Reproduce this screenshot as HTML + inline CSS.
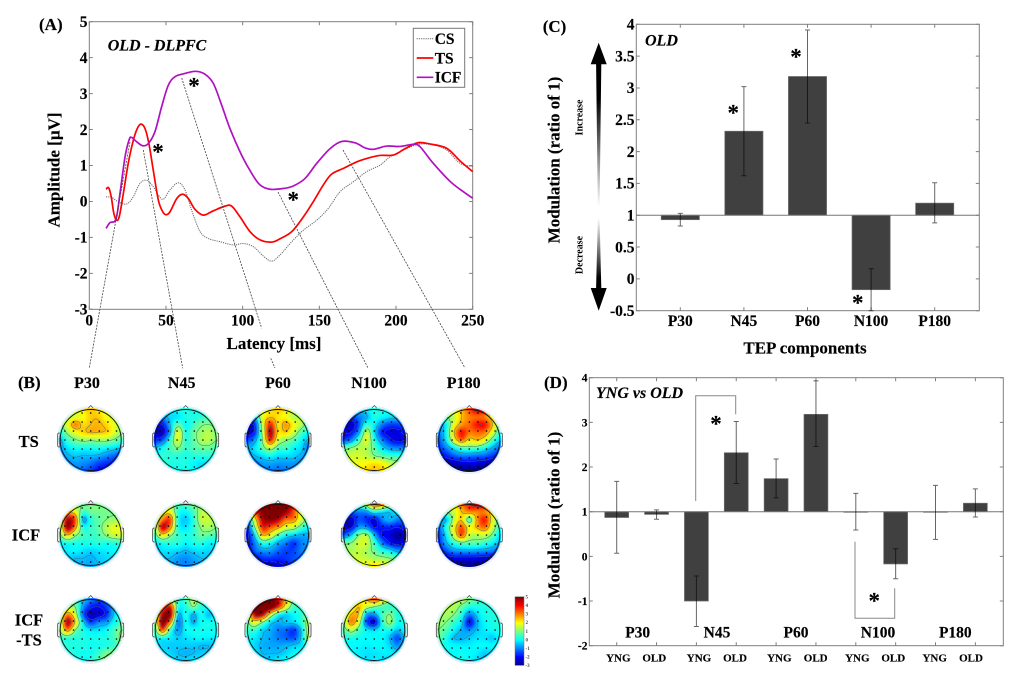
<!DOCTYPE html>
<html lang="en">
<head>
<meta charset="utf-8">
<title>TEP modulation figure</title>
<style>
html,body{margin:0;padding:0;background:#fff;}
svg{display:block;font-family:"Liberation Serif",serif;font-weight:bold;fill:#000;filter:blur(.35px);}
text{stroke:#000;stroke-width:.15px;}
.tick{font-size:15.5px;}
.dtick{font-size:11.5px;}
.italic{font-style:italic;}
.star{font-size:23px;text-anchor:middle;}
.leader{stroke:#444;stroke-width:.8;stroke-dasharray:2 1.2;fill:none;}
.bracket{stroke:#888;stroke-width:1;fill:none;}
</style>
</head>
<body>
<svg id="figure" xmlns="http://www.w3.org/2000/svg" width="1020" height="682" viewBox="0 0 1020 682">
  <defs>
    <linearGradient id="arrow-up-grad" gradientUnits="userSpaceOnUse" x1="0" y1="42" x2="0" y2="207">
      <stop offset="0" stop-color="#000"/><stop offset=".35" stop-color="#000"/><stop offset="1" stop-color="#fff"/>
    </linearGradient>
    <linearGradient id="arrow-down-grad" gradientUnits="userSpaceOnUse" x1="0" y1="218" x2="0" y2="311">
      <stop offset="0" stop-color="#fff"/><stop offset=".65" stop-color="#000"/><stop offset="1" stop-color="#000"/>
    </linearGradient>
    <filter id="soft" x="-10%" y="-10%" width="120%" height="120%"><feGaussianBlur stdDeviation="0.9"/></filter>
    <clipPath id="head-clip"><circle cx="0" cy="0" r="32"/></clipPath>
  </defs>

  <g id="panel-a"></g>
  <text x="39" y="30" font-size="17">(A)</text>
  <text x="107.7" y="50.5" font-size="16" class="italic">OLD - DLPFC</text>
  <text x="274" y="349" font-size="17" text-anchor="middle">Latency [ms]</text>
  <text transform="translate(59.5,170) rotate(-90)" font-size="17" text-anchor="middle">Amplitude [µV]</text>

  <g>
    <line class="leader" x1="130" y1="142" x2="89.3" y2="368"/>
    <line class="leader" x1="143.3" y1="150" x2="182.7" y2="368.3"/>
    <line class="leader" x1="181.7" y1="78" x2="261.7" y2="328.3"/>
    <line class="leader" x1="270.7" y1="358.3" x2="275" y2="368"/>
    <line class="leader" x1="278" y1="192" x2="368" y2="368"/>
    <line class="leader" x1="343" y1="150" x2="465" y2="368"/>
  </g>
  <g>
    <text class="star" x="158" y="159.5">*</text>
    <text class="star" x="194" y="93.5">*</text>
    <text class="star" x="293.3" y="207.5">*</text>
  </g>
  <g>
    <rect x="413.3" y="28.3" width="51.4" height="59" fill="#fff" stroke="#777"/>
    <line x1="416.7" x2="433.3" y1="38.7" y2="38.7" stroke="#666" stroke-width="1" stroke-dasharray="1.2 1"/>
    <text x="434.7" y="44" font-size="15.5">CS</text>
    <line x1="416.7" x2="433.3" y1="58" y2="58" stroke="#f00" stroke-width="1.7"/>
    <text x="434.7" y="63.3" font-size="15.5">TS</text>
    <line x1="416.7" x2="433.3" y1="77.3" y2="77.3" stroke="#b010c0" stroke-width="1.7"/>
    <text x="434.7" y="82.6" font-size="15.5">ICF</text>
  </g>

  <text x="18" y="388" font-size="17">(B)</text>
  <g font-size="16" text-anchor="middle">
    <text x="87" y="388">P30</text>
    <text x="181.7" y="388">N45</text>
    <text x="278" y="388">P60</text>
    <text x="369" y="388">N100</text>
    <text x="463.7" y="388">P180</text>
  </g>
  <g font-size="16.5" text-anchor="middle">
    <text x="28.7" y="447">TS</text>
    <text x="26" y="540.5">ICF</text>
    <text x="29" y="625.5">ICF</text>
    <text x="29" y="645.5">-TS</text>
  </g>
  <g id="map-0-0" transform="translate(90.7,440)"></g>
  <g id="map-0-1" transform="translate(185.7,440)"></g>
  <g id="map-0-2" transform="translate(278,440)"></g>
  <g id="map-0-3" transform="translate(374.3,440)"></g>
  <g id="map-0-4" transform="translate(469.3,440)"></g>
  <g id="map-1-0" transform="translate(90.7,535)"></g>
  <g id="map-1-1" transform="translate(185.7,535)"></g>
  <g id="map-1-2" transform="translate(278,535)"></g>
  <g id="map-1-3" transform="translate(374.3,535)"></g>
  <g id="map-1-4" transform="translate(469.3,535)"></g>
  <g id="map-2-0" transform="translate(90.7,630)"></g>
  <g id="map-2-1" transform="translate(185.7,630)"></g>
  <g id="map-2-2" transform="translate(278,630)"></g>
  <g id="map-2-3" transform="translate(374.3,630)"></g>
  <g id="map-2-4" transform="translate(469.3,630)"></g>
  <g id="colorbar"></g>

  <text x="542.7" y="32" font-size="17">(C)</text>
  <g id="panel-c"></g>
  <text x="645" y="45.5" font-size="16" class="italic">OLD</text>
  <text transform="translate(559.5,160) rotate(-90)" font-size="17" text-anchor="middle">Modulation (ratio of 1)</text>
  <text x="805" y="353.5" font-size="17" text-anchor="middle">TEP components</text>
  <path d="M598.7 42.7 L606.7 64.3 L601.3 64.3 L599.6 207 L597.8 207 L596.1 64.3 L590.7 64.3 Z" fill="url(#arrow-up-grad)"/>
  <path d="M597.8 218 L599.6 218 L601.3 288 L606.7 288 L598.7 310.7 L590.7 288 L596.1 288 Z" fill="url(#arrow-down-grad)"/>
  <text transform="translate(582.5,117.5) rotate(-90)" font-size="10" text-anchor="middle" style="stroke-width:0">Increase</text>
  <text transform="translate(582.5,255) rotate(-90)" font-size="10" text-anchor="middle" style="stroke-width:0">Decrease</text>
  <g>
    <text class="star" x="733.3" y="120.5">*</text>
    <text class="star" x="796" y="64.5">*</text>
    <text class="star" x="857.7" y="310.5">*</text>
  </g>

  <text x="544" y="388" font-size="17">(D)</text>
  <g id="panel-d"></g>
  <text x="596" y="398" font-size="16" class="italic">YNG vs OLD</text>
  <text transform="translate(559.5,515) rotate(-90)" font-size="17" text-anchor="middle">Modulation (ratio of 1)</text>
  <path class="bracket" d="M695.7 501 V395.7 H735.7 V414.3"/>
  <path class="bracket" d="M855 541.7 V618.3 H894.7 V588.3"/>
  <text class="star" x="716" y="431.5">*</text>
  <text class="star" x="874.3" y="608.5">*</text>
  <g font-size="15.5" text-anchor="middle">
    <text x="637.7" y="637.5">P30</text>
    <text x="717" y="637.5">N45</text>
    <text x="796" y="637.5">P60</text>
    <text x="878" y="637.5">N100</text>
    <text x="955.3" y="637.5">P180</text>
  </g>
  <g font-size="11" text-anchor="middle">
    <text x="618.3" y="661.5">YNG</text>
    <text x="654.3" y="661.5">OLD</text>
    <text x="699" y="661.5">YNG</text>
    <text x="735" y="661.5">OLD</text>
    <text x="779.3" y="661.5">YNG</text>
    <text x="815.7" y="661.5">OLD</text>
    <text x="857.3" y="661.5">YNG</text>
    <text x="893.3" y="661.5">OLD</text>
    <text x="934.7" y="661.5">YNG</text>
    <text x="971" y="661.5">OLD</text>
  </g>
</svg>

<script>
/* ---------- Panel A data ---------- */
const latencyTicks = [0, 50, 100, 150, 200, 250];
const amplitudeTicks = [-3, -2, -1, 0, 1, 2, 3, 4, 5];
const tsLatency = [10.9,12.6,14.3,16,17.8,19.6,22.2,25.4,28.7,31.3,33.7,36.3,38.9,41.7,45,47.8,50,52.6,57,60.9,64.6,68.9,74.3,80.9,88.5,92.8,98.3,104.8,111.3,118.9,124.3,132,139.6,146,152.6,158,165.7,174.3,183,189.6,198.3,204.8,211.3,215.7,222,233,241.7,250];
const tsAmplitude = [.34,.38,.13,-.33,-.52,-.41,.22,1.06,1.7,2.03,2.15,2.03,1.6,.87,.04,-.28,-.37,-.29,.08,.2,.08,-.22,-.38,-.26,-.13,-.13,-.43,-.84,-1.07,-1.13,-1.04,-.84,-.43,-.01,.46,.76,.92,1.1,1.22,1.28,1.29,1.44,1.59,1.64,1.6,1.48,1.13,.83];
const icfLatency = [10.9,13.5,17.4,20,23.3,26,27.6,30.9,34.8,38.5,42.8,47.2,51.5,55.9,62.4,69.3,75.4,80.9,86.3,91.7,99.3,105.9,111.3,117.8,126.5,133,140.7,148.3,157,164.6,173.3,179.8,185.2,193.9,202.6,211.3,215.7,224.3,235.2,243.9,250];
const icfAmplitude = [-.75,-.59,-.49,.22,1.24,1.72,1.78,1.66,1.55,1.61,1.94,2.64,3.23,3.47,3.56,3.62,3.54,3.28,2.68,2.03,1.29,.78,.46,.34,.36,.43,.64,1.06,1.47,1.67,1.63,1.49,1.45,1.54,1.53,1.59,1.52,1.06,.56,.27,.09];
const csLatency = [10.9,14.6,18.9,24.3,28.7,33,37.4,41.7,45,48.3,52.6,58,62.4,66.7,72.2,77.6,85.2,93.9,100.4,107,113.5,118.9,124.3,132,139.6,148.3,155.9,163.5,172.2,180.9,189.6,196.1,204.8,214.6,224.3,233,241.7,250];
const csAmplitude = [.13,.11,-.01,-.07,.13,.5,.59,.41,.18,.06,.32,.52,.32,-.24,-.84,-1.03,-1.12,-1.21,-1.17,-1.26,-1.52,-1.66,-1.49,-1.12,-.8,-.52,-.19,.27,.55,.83,1.01,1.24,1.43,1.59,1.57,1.43,1.06,.97];

/* ---------- Panel C data ---------- */
const componentsC = ['P30', 'N45', 'P60', 'N100', 'P180'];
const ticksC = [-0.5, 0, 0.5, 1, 1.5, 2, 2.5, 3, 3.5, 4];
const valuesC = [0.93, 2.32, 3.18, -0.17, 1.19];
const errorTopC = [1.03, 3.02, 3.91, 0.16, 1.51];
const errorBottomC = [0.83, 1.62, 2.45, -0.5, 0.88];

/* ---------- Panel D data ---------- */
const groupsD = ['YNG P30','OLD P30','YNG N45','OLD N45','YNG P60','OLD P60','YNG N100','OLD N100','YNG P180','OLD P180'];
const ticksD = [-2, -1, 0, 1, 2, 3, 4];
const valuesD = [0.87, 0.94, -1, 2.32, 1.74, 3.18, 0.99, -0.17, 0.99, 1.19];
const errorTopD = [1.68, 1.04, -0.44, 3.02, 2.18, 3.93, 1.41, 0.17, 1.59, 1.51];
const errorBottomD = [0.07, 0.83, -1.57, 1.63, 1.31, 2.46, 0.59, -0.5, 0.38, 0.88];

/* ---------- Colorbar ---------- */
const colorbarTicks = [-3, -2, -1, 0, 1, 2, 3, 4, 5];

/* ---------- Panel B data: scalp values on a 9x9 sampling grid (uV) ---------- */
const tsP30 = [[1.2,1.4,1.8,2.2,2.4,2.2,1.8,1.3,1],[1,1.3,1.7,1.9,2.4,2.4,1.9,1.6,1.2],[.8,1.8,3,2.3,2.5,2.6,2.3,1.8,1.2],[.2,1.2,1.9,2.3,2.6,2.5,2.4,1.8,1.1],[-.7,.4,.9,1.2,1.1,1.2,1.2,.9,.5],[-.8,-.2,.1,.1,.1,.2,0,-.2,-.5],[-1,-.6,-.4,-.5,-.5,-.6,-.9,-1.2,-1.4],[-1.2,-1,-.8,-.9,-1.1,-1.5,-1.7,-1.9,-2],[-1.4,-1.2,-1,-1.2,-1.6,-2,-2,-2,-2]];
const tsN45 = [[0,0,0,.2,.2,.2,.2,.3,.3],[-.7,-.8,-.3,-.2,.2,.2,.3,.5,.5],[-2,-2,-.5,.7,0,.4,.9,1,.8],[-2.4,-2.6,-.7,1.8,.2,.8,1.2,1.4,1],[-1.8,-1.4,.3,1.7,.3,.7,1.3,1.4,1],[-.6,0,.5,1,.4,.6,.8,.8,.5],[0,.3,.3,.3,.2,.3,.3,.3,.3],[.2,.3,.2,.2,.2,0,-.2,-.2,0],[.2,.2,.2,.2,.1,0,-.2,-.2,0]];
const tsP60 = [[1,1.2,1.8,2.2,2.4,2.2,1.7,1.2,1],[-.5,-.4,1.8,2.4,2.2,1.9,1.4,1.4,1],[-2,-1.8,1.6,3.8,2.2,2.8,2,1.4,.5],[-2.3,-1.8,1.3,4.5,2.3,2.4,1.6,.6,0],[-1.5,-.8,1,3.8,1.7,1.1,.7,0,-.6],[-.6,-.2,.7,1.5,.6,.5,0,-.3,-1.2],[-.8,-.5,-.2,.1,-.2,-.2,-.3,-.6,-.8],[-1.2,-1,-.8,-.7,-.8,-.8,-.8,-1,-1],[-1.5,-1.3,-1,-1,-1.2,-1,-1,-1,-1]];
const tsN100 = [[0,0,-.3,0,.2,.1,.1,0,0],[-1,-1.5,-1,-.6,.2,0,-.2,-.3,-.3],[-2,-2.4,-1.4,.3,-.1,-1,-1.5,-1.5,-1.2],[-2,-2,-.8,1.5,-.2,-1.8,-2.2,-2.2,-1.8],[-1.6,-1,.5,1.8,.2,-1,-1.8,-2.2,-2],[.6,1,1.4,1.4,.7,-.2,-.8,-1,-1],[1.2,1.6,1.6,1.5,1,.7,.4,.3,.2],[1.3,1.7,1.9,2,2.2,2,1.5,1.2,1],[1.3,1.6,2,2.3,2.5,2.3,1.8,1.4,1]];
const tsP180 = [[2,2,2,2.5,3.5,4.5,4,2,1],[.5,1,1.5,2.5,3,3.2,3,2,1],[-.8,0,1.8,2.8,3.2,3.9,3.9,2.5,.8],[-1,0,2.4,3.9,3.1,3.2,3.1,1.8,.2],[-1.4,-.2,1.8,3.2,2.2,2.5,1.9,.6,-.4],[-1.6,-1,-.1,.6,.7,.6,.1,-.6,-1.2],[-2,-1.8,-1.3,-1,-1,-1.1,-1.2,-1.6,-1.8],[-2.6,-2.5,-2.5,-2.3,-2.2,-2.3,-2.4,-2.6,-2.6],[-3,-3,-3,-3,-3,-3,-3,-3,-3]];
const icfP30 = [[1,1.2,1.2,1,1,1,1,1,1],[1.5,2.5,2,.5,.8,.9,.9,.9,1],[1.5,4.5,3.5,-.6,.3,.7,1,1.2,1.2],[1.2,4.8,3,.2,.4,.7,1.4,1.8,1.8],[.8,2.5,1.2,.5,.4,.6,1.1,1.6,1.6],[0,.2,.2,.2,.2,.3,.2,.3,.5],[-.2,-.1,0,-.2,-.3,-.2,-.1,0,0],[-.3,-.3,-.5,-.5,-.6,-.4,-.3,-.2,-.2],[-.3,-.3,-.5,-.6,-.7,-.5,-.3,-.2,-.2]];
const icfN45 = [[.8,1,1.2,.6,.5,1,1,1,1],[1,1.8,2,.3,0,.5,1.4,1.4,1.2],[1,3,3.5,.2,-.4,.3,1.5,1.5,1.2],[1,4.4,3,.2,-.2,.3,1.1,1.3,1],[.6,2.2,1.2,.4,.2,.3,.8,.7,.5],[-.2,.2,.3,.3,0,.2,.3,0,0],[-.5,-.2,-.2,-.3,-.5,-.3,-.2,-.3,-.3],[-.5,-.5,-.5,-.8,-.9,-.7,-.5,-.5,-.4],[-.5,-.5,-.7,-.9,-1,-.9,-.6,-.5,-.4]];
const icfP60 = [[3,4,5,5,5,5,4,2,1],[1,3.5,5,5.5,5.5,4.8,3.5,1.8,1],[-1,2,4.5,5,4.5,3.2,3,1.6,.6],[-1.8,1,3.8,3.4,2.8,1.8,1.5,.6,0],[-2.2,-.3,2.5,2,.8,0,-.3,-.6,-.6],[-2.2,-1,.3,.1,-.6,-1,-1.6,-1,-.8],[-2.4,-1.3,-.8,-.8,-1.2,-1.5,-1.5,-1,-1],[-2.6,-2.2,-1.7,-1.6,-1.7,-1.6,-1.4,-1.2,-1.2],[-3,-2.8,-2.5,-2.4,-2.2,-2,-1.6,-1.4,-1.4]];
const icfN100 = [[1,1,1,1.5,3.5,3,1.5,1,1],[-.5,-1,-1,-.8,.2,-.2,-.4,0,.3],[-2,-2.4,-1.4,-1.7,-2.2,-1,-.5,-1,-1],[-2.3,-2.2,-.8,-.9,-2,-1.8,-1.8,-2,-1.6],[-1.4,-.5,1,1.3,-.5,-2,-2.2,-2.8,-2.4],[.8,1,1.6,1.6,.4,-1,-2,-2.3,-2],[1.2,1.3,1.5,1.3,.8,.2,-.2,-.8,-.8],[1.4,1.5,1.6,1.5,1.3,1.2,1,.6,.3],[1.4,1.6,1.8,2,2.2,2,1.6,1,.6]];
const icfP180 = [[2,2,2,3,4,4.5,4,2,1],[.5,1,1.6,2.5,3,3,3,2,1],[-.3,-.5,1.4,2.4,.5,2.8,3.8,2,.6],[-1.2,.2,2,3.4,2,2.6,3.2,1.6,.2],[-1.6,-.2,1.6,3.4,1.6,1.4,1.6,.8,-.3],[-1.7,-.6,.3,.8,.7,.7,.4,0,-.6],[-2,-1.4,-.8,-.7,-.6,-.7,-.8,-1,-1.4],[-2.6,-2.4,-2.2,-2.2,-2.2,-2.2,-2.3,-2.4,-2.6],[-3,-3,-2.8,-2.8,-2.8,-2.8,-2.8,-3,-3]];
const diffP30 = [[.5,.5,.5,-.3,-1,-1.4,-1,0,.5],[1,1.2,1,-.8,-1.8,-2,-1.6,-.5,.5],[1,3,1.6,-1.2,-2.6,-2.4,-1.8,-.4,.5],[1,4.5,2.4,-.2,-1.6,-1,-.8,0,.5],[1,3,1,.2,-.2,-.2,0,.5,1],[.5,.4,.3,.2,.1,.2,.2,.5,1.2],[.3,.3,.2,.2,.1,.1,.2,.4,.8],[.2,.2,.2,.1,.1,.4,.9,1,1],[.2,.2,.2,.1,.2,.7,1.1,1.1,1]];
const diffN45 = [[1,1.5,1.5,.3,.5,1.5,.5,.3,.3],[1,3,4,.3,.2,1,.2,.1,.2],[1,4.5,5,-.4,.2,-.6,.1,-.5,.2],[1,5,3,-1,.1,-.6,.1,.1,.2],[.5,3.5,.6,-.8,0,.1,.1,.1,.1],[.1,.1,-.1,-.4,-.2,-.1,0,-.1,-.1],[-.2,-.3,-.4,-.4,-.4,-.4,-.5,-.5,-.3],[0,-.2,-.3,-.5,-.6,-.5,-.4,-.3,0],[0,-.1,-.1,-.3,-.3,-.1,-.1,0,0]];
const diffP60 = [[3,4,5,5,4.5,2.5,1,.5,.5],[2,5,5.5,5.5,4,2,.5,.5,.5],[1,4.5,4.5,2,.2,-.3,0,.3,1],[.8,2,1,-.2,-.6,-.4,-.3,.3,1.4],[.5,.4,-.3,-.6,-1,-1.2,-1.6,-.4,1.6],[0,-.1,-.5,-.7,-1,-1.2,-1.4,-.4,1.5],[0,-.3,-.6,-.7,-.7,-.6,-.4,-.2,.5],[.1,-.2,-.5,-.5,-.5,-.3,0,.1,.1],[.1,0,-.3,-.3,-.1,.1,.2,.2,.1]];
const diffN100 = [[1,1,1.5,2.5,3.5,2.5,1,.5,.5],[1,1.5,2.5,1.5,1,.6,.4,.4,.5],[1,2.5,2.4,-.6,-.8,.5,1,.2,.3],[1,3,1.6,-1.4,-2.4,.2,1.2,.1,.3],[.6,1.4,.6,-.1,-.3,.1,.1,-.4,0],[.2,.2,.1,0,0,0,-.5,-1.4,-.3],[.1,0,0,-.1,0,0,-.3,-.9,-.2],[0,0,-.1,-.2,-.2,-.1,-.1,-.2,-.1],[0,0,0,-.2,-.1,-.2,-.4,-.3,0]];
const diffP180 = [[1,1,1.4,1.5,1,.5,.5,.5,.5],[1,1.3,1.4,.8,.2,.2,.2,.3,.5],[1,1.3,1,.2,-1,-.3,.2,.2,.4],[1.2,1,.4,-.2,-2.2,-.6,0,.2,.3],[1,.6,0,-.6,-.9,-.4,-.1,.1,.2],[.8,.2,-.5,-.6,-.4,-.2,-.2,-.4,.1],[.4,.1,0,-.1,-.1,0,0,0,.1],[.3,.1,0,.1,0,-.1,-.4,-.2,.2],[.3,.1,0,.1,0,-.3,-.4,-.1,.2]];
const contourLevels = [-2, -0.5, 1, 2.5, 4];
const topoMaps = [
  [tsP30, tsN45, tsP60, tsN100, tsP180],
  [icfP30, icfN45, icfP60, icfN100, icfP180],
  [diffP30, diffN45, diffP60, diffN100, diffP180]
];

/* ---------- helpers ---------- */
const SVGNS = 'http://www.w3.org/2000/svg';
function el(parent, tag, attrs) {
  const n = document.createElementNS(SVGNS, tag);
  for (const k in attrs) n.setAttribute(k, attrs[k]);
  parent.appendChild(n);
  return n;
}
function linear(d0, d1, r0, r1) { return v => r0 + (v - d0) * (r1 - r0) / (d1 - d0); }
function smoothPath(xs, ys) {
  let d = 'M' + xs[0].toFixed(2) + ' ' + ys[0].toFixed(2);
  for (let i = 0; i < xs.length - 1; i++) {
    const p = Math.max(i - 1, 0), q = Math.min(i + 2, xs.length - 1);
    const c1x = xs[i] + (xs[i + 1] - xs[p]) / 6, c1y = ys[i] + (ys[i + 1] - ys[p]) / 6;
    const c2x = xs[i + 1] - (xs[q] - xs[i]) / 6, c2y = ys[i + 1] - (ys[q] - ys[i]) / 6;
    d += 'C' + c1x.toFixed(2) + ' ' + c1y.toFixed(2) + ' ' + c2x.toFixed(2) + ' ' + c2y.toFixed(2) + ' ' + xs[i + 1].toFixed(2) + ' ' + ys[i + 1].toFixed(2);
  }
  return d;
}
function drawFrame(g, box, xTickPx, yTickPx) {
  const TL = 3.5;
  const frame = el(g, 'rect', {x: box.l, y: box.t, width: box.r - box.l, height: box.b - box.t, fill: 'none', stroke: '#7f7f7f', 'stroke-width': 1});
  
  
  let d = '';
  xTickPx.forEach(x => { d += 'M' + x + ' ' + box.b + 'v' + (-TL) + 'M' + x + ' ' + box.t + 'v' + TL; });
  yTickPx.forEach(y => { d += 'M' + box.l + ' ' + y + 'h' + TL + 'M' + box.r + ' ' + y + 'h' + (-TL); });
  const ticks = el(g, 'path', {d: d, stroke: '#7f7f7f', 'stroke-width': 1, fill: 'none'});
  
  
}

/* ---------- Panel A ---------- */
(function () {
  const g = document.getElementById('panel-a');
  const box = {l: 89.3, r: 472.7, t: 21.7, b: 309.3};
  const x = linear(0, 250, box.l, box.r);
  const y = linear(-3, 5, box.b, box.t);
  drawFrame(g, box, latencyTicks.map(x), amplitudeTicks.map(y));
  latencyTicks.forEach(t => {
    const lab = el(g, 'text', {x: x(t), y: 325.5, 'text-anchor': 'middle', class: 'tick'});
    
    
    lab.textContent = t;
  });
  amplitudeTicks.forEach(t => {
    const lab = el(g, 'text', {x: 87.5, y: y(t) + 5.2, 'text-anchor': 'end', class: 'tick'});
    
    
    lab.textContent = t;
  });
  const cs = el(g, 'path', {d: smoothPath(csLatency.map(x), csAmplitude.map(y)), fill: 'none', stroke: '#666', 'stroke-width': 1, 'stroke-dasharray': '1.2 1'});
  
  
  const ts = el(g, 'path', {d: smoothPath(tsLatency.map(x), tsAmplitude.map(y)), fill: 'none', stroke: '#f00', 'stroke-width': 1.7});
  
  
  const icf = el(g, 'path', {d: smoothPath(icfLatency.map(x), icfAmplitude.map(y)), fill: 'none', stroke: '#b010c0', 'stroke-width': 1.7});
  
  
})();

/* ---------- Bars shared ---------- */
function drawBars(g, box, x, y, values, tops, bottoms, capHalf) {
  const barW = x(1.6) - x(1);
  const base = y(1);
  values.forEach((v, i) => {
    const cx = x(i + 1);
    const bar = el(g, 'rect', {x: cx - barW / 2, y: Math.min(y(v), base), width: barW, height: Math.max(Math.abs(y(v) - base), 0.6), fill: '#404040', stroke: '#6e6e6e', 'stroke-width': .7});
    
    
  });
  const baseLine = el(g, 'line', {x1: box.l, x2: box.r, y1: base, y2: base, stroke: '#777', 'stroke-width': 1});
  
  
  values.forEach((v, i) => {
    const cx = x(i + 1), t = y(tops[i]), b = y(bottoms[i]);
    const err = el(g, 'path', {d: 'M' + cx + ' ' + t + 'V' + b + 'M' + (cx - capHalf) + ' ' + t + 'h' + (2 * capHalf) + 'M' + (cx - capHalf) + ' ' + b + 'h' + (2 * capHalf), stroke: 'rgba(0,0,0,.6)', 'stroke-width': 1, fill: 'none'});
    
    
  });
}

/* ---------- Panel C ---------- */
(function () {
  const g = document.getElementById('panel-c');
  const box = {l: 636.3, r: 979.3, t: 24.3, b: 310.7};
  const step = 63.6;
  const x = linear(1, 2, 680.3, 680.3 + step);
  const y = linear(-0.5, 4, box.b, box.t);
  drawFrame(g, box, componentsC.map((c, i) => x(i + 1)), ticksC.map(y));
  drawBars(g, box, x, y, valuesC, errorTopC, errorBottomC, 2.5);
  ticksC.forEach(t => {
    const lab = el(g, 'text', {x: 634.5, y: y(t) + 5.2, 'text-anchor': 'end', class: 'tick'});
    
    
    lab.textContent = t;
  });
  componentsC.forEach((c, i) => {
    const lab = el(g, 'text', {x: x(i + 1), y: 326, 'text-anchor': 'middle', class: 'tick'});
    
    
    lab.textContent = c;
  });
})();

/* ---------- Panel D ---------- */
(function () {
  const g = document.getElementById('panel-d');
  const box = {l: 589.3, r: 1003.3, t: 377.7, b: 645.7};
  const step = 39.85;
  const x = linear(1, 2, 616.7, 616.7 + step);
  const y = linear(-2, 4, box.b, box.t);
  drawFrame(g, box, groupsD.map((c, i) => x(i + 1)), ticksD.map(y));
  drawBars(g, box, x, y, valuesD, errorTopD, errorBottomD, 2.5);
  ticksD.forEach(t => {
    const lab = el(g, 'text', {x: 587.5, y: y(t) + 4, 'text-anchor': 'end', class: 'dtick'});
    
    
    lab.textContent = t;
  });
})();

/* ---------- Panel B ---------- */
function clamp01(v) { return Math.max(0, Math.min(1, v)); }
function jet(v) {
  const p = clamp01((v + 3) / 8);
  const r = clamp01(1.5 - Math.abs(4 * p - 3));
  const g = clamp01(1.5 - Math.abs(4 * p - 2));
  const b = clamp01(1.5 - Math.abs(4 * p - 1));
  return 'rgb(' + Math.round(r * 255) + ',' + Math.round(g * 255) + ',' + Math.round(b * 255) + ')';
}
function cubic(a, b, c, d, t) {
  return b + 0.5 * t * (c - a + t * (2 * a - 5 * b + 4 * c - d + t * (3 * (b - c) + d - a)));
}
function sampleGrid(grid, u, v) {
  const n = grid.length - 1;
  const fx = clamp01((u + 1) / 2) * n, fy = clamp01((v + 1) / 2) * n;
  const ix = Math.min(Math.floor(fx), n - 1), iy = Math.min(Math.floor(fy), n - 1);
  const tx = fx - ix, ty = fy - iy;
  const at = (r, c) => grid[Math.max(0, Math.min(n, r))][Math.max(0, Math.min(n, c))];
  const rows = [];
  for (let r = -1; r <= 2; r++) {
    rows.push(cubic(at(iy + r, ix - 1), at(iy + r, ix), at(iy + r, ix + 1), at(iy + r, ix + 2), tx));
  }
  return cubic(rows[0], rows[1], rows[2], rows[3], ty);
}
function contourPath(field, n, cell, origin, level) {
  let d = '';
  const interp = (a, b) => (level - a) / (b - a);
  for (let r = 0; r < n - 1; r++) {
    for (let c = 0; c < n - 1; c++) {
      const a = field[r][c], b = field[r][c + 1], e = field[r + 1][c + 1], f = field[r + 1][c];
      const pts = [];
      const X = c * cell + origin, Y = r * cell + origin;
      if ((a < level) !== (b < level)) pts.push([X + interp(a, b) * cell, Y]);
      if ((b < level) !== (e < level)) pts.push([X + cell, Y + interp(b, e) * cell]);
      if ((f < level) !== (e < level)) pts.push([X + interp(f, e) * cell, Y + cell]);
      if ((a < level) !== (f < level)) pts.push([X, Y + interp(a, f) * cell]);
      for (let k = 0; k + 1 < pts.length; k += 2) {
        d += 'M' + pts[k][0].toFixed(1) + ' ' + pts[k][1].toFixed(1) + 'L' + pts[k + 1][0].toFixed(1) + ' ' + pts[k + 1][1].toFixed(1);
      }
    }
  }
  return d;
}
function drawHead(host, grid) {
  const R = 31, cell = 2, n = 33, origin = -32;
  const halo = el(host, 'circle', {r: 34, fill: '#e6f1fb'});
  
  
  ['-1', '1'].forEach(s => {
    const ear = el(host, 'rect', {x: s === '-1' ? -33 : 30, y: -7, width: 3, height: 14, rx: 1.5, fill: '#f0f0f0', stroke: '#333', 'stroke-width': .7});
    
    
  });
  const nose = el(host, 'path', {d: 'M-4 -30 L0 -34.5 L4 -30', fill: '#fff', stroke: '#444', 'stroke-width': .7});
  
  
  const clip = el(host, 'g', {'clip-path': 'url(#head-clip)'});
  const cells = el(clip, 'g', {filter: 'url(#soft)'});
  const field = [];
  for (let r = 0; r < n; r++) {
    const row = [];
    for (let c = 0; c < n; c++) {
      const px = origin + c * cell, py = origin + r * cell;
      const val = sampleGrid(grid, px / R, py / R);
      row.push(val);
      if (px * px + py * py <= 35 * 35) {
        const rect = el(cells, 'rect', {x: px - 1, y: py - 1, width: 2.2, height: 2.2, fill: jet(val)});
        
        
      }
    }
    field.push(row);
  }
  contourLevels.forEach(level => {
    const cp = el(clip, 'path', {d: contourPath(field, n, cell, origin, level), fill: 'none', stroke: '#3c6a66', 'stroke-width': .55, opacity: .8});
    
    
  });
  const ring = el(host, 'circle', {r: 30.5, fill: 'none', stroke: '#111', 'stroke-width': .9});
  
  
  for (let r = -3; r <= 3; r++) {
    const yy = r * 9;
    const half = Math.floor(Math.sqrt(Math.max(0, 29 * 29 - yy * yy)) / 8.6);
    for (let c = -half; c <= half; c++) {
      const dot = el(host, 'circle', {cx: c * 8.6, cy: yy, r: .8, fill: '#000'});
      
      
    }
  }
}
topoMaps.forEach((rowMaps, r) => rowMaps.forEach((grid, c) => {
  drawHead(document.getElementById('map-' + r + '-' + c), grid);
}));

/* ---------- Colorbar ---------- */
(function () {
  const g = document.getElementById('colorbar');
  const y = linear(-3, 5, 665.3, 596.7);
  for (let v = -3; v < 5; v += 0.125) {
    const c = el(g, 'rect', {x: 515, y: y(v + 0.125), width: 9, height: Math.abs(y(v + 0.125) - y(v)) + .3, fill: jet(v + 0.0625)});
    
    
  }
  const frame = el(g, 'rect', {x: 515, y: 596.7, width: 9, height: 68.6, fill: 'none', stroke: '#777', 'stroke-width': .5});
  
  
  colorbarTicks.forEach(t => {
    const lab = el(g, 'text', {x: 525.5, y: y(t) + 1.8, 'font-size': 5, fill: '#444', style: 'stroke-width:0'});
    
    
    lab.textContent = t;
  });
})();
</script>
</body>
</html>
